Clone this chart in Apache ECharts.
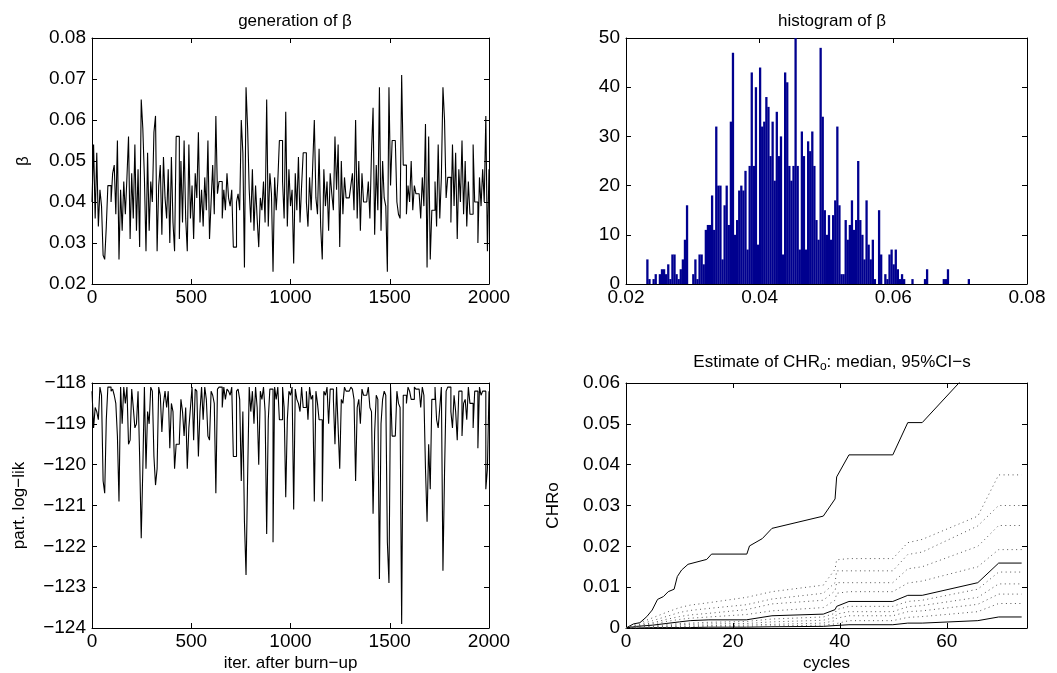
<!DOCTYPE html>
<html>
<head>
<meta charset="utf-8">
<script src="https://cdn.jsdelivr.net/npm/echarts@6/dist/echarts.min.js"></script>
<style>
  html, body { margin: 0; padding: 0; background: #fff; }
  #main { width: 1057px; height: 673px; }
</style>
</head>
<body>
<div id="main"></div>
<script>
// beta chain, one value every 8 iterations (last one is iter 2000)
const ITER_STEP = 8;
const betaTrace = [
  0.040, 0.054, 0.036, 0.052, 0.034, 0.043, 0.039, 0.027, 0.026, 0.034,
  0.044, 0.044, 0.040, 0.047, 0.049, 0.037, 0.055, 0.026, 0.043, 0.033,
  0.045, 0.037, 0.046, 0.056, 0.031, 0.047, 0.036, 0.054, 0.033, 0.048,
  0.029, 0.065, 0.058, 0.046, 0.028, 0.052, 0.033, 0.045, 0.040, 0.057,
  0.061, 0.028, 0.044, 0.049, 0.032, 0.051, 0.041, 0.036, 0.048, 0.030,
  0.051, 0.035, 0.028, 0.056, 0.056, 0.031, 0.050, 0.035, 0.055, 0.036,
  0.028, 0.054, 0.036, 0.044, 0.031, 0.047, 0.041, 0.057, 0.035, 0.043,
  0.034, 0.046, 0.038, 0.055, 0.031, 0.040, 0.049, 0.037, 0.061, 0.042,
  0.045, 0.045, 0.036, 0.043, 0.038, 0.047, 0.041, 0.039, 0.043, 0.029,
  0.029, 0.040, 0.042, 0.038, 0.060, 0.052, 0.024, 0.068, 0.058, 0.043,
  0.035, 0.048, 0.033, 0.044, 0.036, 0.029, 0.041, 0.038, 0.045, 0.035,
  0.065, 0.034, 0.047, 0.042, 0.023, 0.046, 0.038, 0.045, 0.055, 0.055,
  0.045, 0.036, 0.062, 0.034, 0.048, 0.039, 0.043, 0.025, 0.047, 0.038,
  0.051, 0.035, 0.044, 0.052, 0.052, 0.040, 0.034, 0.046, 0.038, 0.049,
  0.060, 0.041, 0.037, 0.053, 0.034, 0.026, 0.048, 0.039, 0.045, 0.033,
  0.047, 0.042, 0.038, 0.056, 0.043, 0.054, 0.029, 0.050, 0.037, 0.046,
  0.041, 0.041, 0.041, 0.044, 0.047, 0.038, 0.060, 0.036, 0.050, 0.033,
  0.047, 0.040, 0.040, 0.040, 0.045, 0.036, 0.052, 0.063, 0.032, 0.049,
  0.038, 0.068, 0.033, 0.050, 0.041, 0.039, 0.023, 0.068, 0.044, 0.055,
  0.055, 0.055, 0.040, 0.037, 0.036, 0.071, 0.049, 0.049, 0.037, 0.044,
  0.040, 0.050, 0.038, 0.044, 0.042, 0.042, 0.042, 0.036, 0.046, 0.039,
  0.059, 0.024, 0.056, 0.026, 0.038, 0.038, 0.045, 0.034, 0.054, 0.036,
  0.046, 0.068, 0.060, 0.041, 0.046, 0.046, 0.035, 0.054, 0.039, 0.052,
  0.031, 0.048, 0.040, 0.055, 0.037, 0.050, 0.034, 0.045, 0.037, 0.037,
  0.054, 0.040, 0.040, 0.030, 0.046, 0.039, 0.048, 0.040, 0.061, 0.028,
  0.048
];

// partial log-likelihood, same iterations
const logLikTrace = [
  -118.2, -119.1, -118.6, -118.7, -118.9, -118.1, -118.3, -120.4, -120.7, -118.9,
  -118.1, -118.1, -118.2, -118.15, -118.3, -118.5, -119.3, -120.9, -118.1, -119.0,
  -118.1, -118.5, -118.1, -119.5, -119.4, -118.15, -118.6, -119.1, -119.0, -118.2,
  -119.8, -121.8, -120.1, -118.1, -120.1, -118.7, -119.0, -118.1, -118.2, -119.8,
  -120.5, -120.1, -118.1, -118.3, -119.2, -118.5, -118.2, -118.6, -118.2, -119.6,
  -118.5, -118.7, -120.1, -119.5, -119.5, -119.4, -118.4, -118.7, -119.3, -118.6,
  -120.1, -119.1, -118.6, -118.1, -119.4, -118.15, -118.2, -119.8, -118.7, -118.1,
  -118.9, -118.1, -118.4, -119.3, -119.4, -118.2, -118.3, -118.5, -120.7, -118.15,
  -118.1, -118.1, -118.6, -118.1, -118.4, -118.15, -118.2, -118.3, -118.1, -119.8,
  -119.8, -118.2, -118.15, -118.4, -120.4, -118.7, -121.4, -122.7, -120.3, -118.1,
  -118.7, -118.2, -119.0, -118.1, -118.6, -120.0, -118.2, -118.4, -118.1, -118.7,
  -121.7, -118.9, -118.15, -118.15, -121.9, -118.1, -118.4, -118.1, -118.9, -118.9,
  -118.1, -118.6, -120.8, -118.9, -118.2, -118.3, -118.1, -121.1, -118.15, -118.4,
  -118.5, -118.7, -118.1, -118.6, -118.6, -118.2, -118.9, -118.1, -118.4, -118.3,
  -120.9, -118.2, -118.5, -118.9, -118.9, -120.9, -118.2, -118.3, -118.1, -119.0,
  -118.15, -118.15, -118.4, -119.5, -118.1, -119.1, -120.1, -118.4, -118.5, -118.1,
  -118.2, -118.2, -118.2, -118.1, -118.15, -118.4, -120.4, -118.6, -118.4, -119.0,
  -118.15, -118.3, -118.3, -118.3, -118.1, -118.6, -118.7, -121.2, -119.2, -118.3,
  -118.4, -122.8, -119.0, -118.4, -118.2, -118.3, -121.9, -122.9, -118.1, -119.3,
  -119.3, -119.3, -118.2, -118.5, -118.6, -123.9, -118.3, -118.3, -118.5, -118.1,
  -118.2, -118.4, -118.4, -118.1, -118.15, -118.15, -118.15, -118.6, -118.1, -118.3,
  -120.1, -121.4, -119.5, -120.6, -118.4, -118.4, -118.1, -118.9, -119.1, -118.6,
  -118.1, -122.6, -120.2, -118.2, -118.1, -118.1, -118.7, -119.1, -118.3, -118.7,
  -119.4, -118.2, -118.2, -119.3, -118.5, -118.4, -118.9, -118.1, -118.5, -118.5,
  -119.1, -118.2, -118.2, -119.6, -118.1, -118.3, -118.2, -118.2, -120.6, -120.1,
  -118.2
];

// histogram of beta
const histFirstBin = 0.0232;
const histLastBin = 0.0713;
const histCounts = [
  5, 1, 0, 1, 2, 0, 2, 3, 3, 2, 4, 1, 6, 6, 2, 1, 3, 5, 9, 16,
  0, 0, 2, 5, 1, 6, 6, 4, 11, 12, 12, 18, 11, 32, 20, 20, 5, 16, 20, 12,
  33, 47, 10, 13, 19, 20, 19, 23, 7, 24, 43, 24, 40, 8, 44, 32, 33, 38, 36, 26,
  33, 21, 35, 26, 30, 6, 43, 41, 24, 21, 24, 50, 24, 7, 31, 26, 7, 29,
  27, 31, 24, 13, 9, 48, 34, 15, 10, 14, 9, 14, 17, 32, 16, 2, 2, 13, 9, 12,
  17, 11, 13, 25, 13, 10, 5, 17, 8, 5, 9, 1, 0, 15, 6, 0, 2, 1, 6, 7,
  4, 7, 3, 1, 2, 1, 0, 0, 0, 1, 0, 0, 0, 0, 0, 1, 3, 0, 0, 0,
  0, 0, 0, 0, 1, 1, 3, 0, 0, 0, 0, 0, 0, 0, 0, 0, 1
];

// CHRo estimate: upper 95% limit
const upperCycles = [0, 1.4, 2.6, 3.9, 4.9, 5.9, 7.0, 7.9, 9.0, 9.6, 10.4, 11.6, 15.1, 16.0, 22.6, 23.1, 25.5, 27.3, 36.9, 39.1, 39.4, 41.7, 49.9, 52.7, 55.4, 65.8, 69.7, 74];
const upperCI = [0, 0.0010, 0.0013, 0.0028, 0.0044, 0.0070, 0.0077, 0.0089, 0.0095, 0.0126, 0.0142, 0.0156, 0.0168, 0.0181, 0.0181, 0.0201, 0.0219, 0.0244, 0.0274, 0.0316, 0.0370, 0.0424, 0.0424, 0.0503, 0.0503, 0.0650, 0.0720, 0.0780];

// median, lower limit and the dotted quantiles
const qCycles = [0, 2, 5, 7.5, 10, 12, 15.5, 22.5, 27.3, 36.9, 39.1, 39.4, 41.7, 49.9, 52.7, 55.4, 65.8, 69.7, 74];
const medianCHR = [0, 0.0004, 0.0007, 0.0011, 0.0015, 0.0018, 0.0020, 0.0020, 0.0030, 0.0034, 0.0045, 0.0053, 0.0065, 0.0065, 0.0080, 0.0080, 0.0111, 0.0159, 0.0159];
const lowerCI = [0, 0, 0.0001, 0.0001, 0.0001, 0.0001, 0.0002, 0.0002, 0.0003, 0.0004, 0.0006, 0.0006, 0.0008, 0.0008, 0.0012, 0.0012, 0.0018, 0.0027, 0.0027];
const q90 = [0, 0.0010, 0.0025, 0.0038, 0.0050, 0.0056, 0.0062, 0.0075, 0.0089, 0.0105, 0.0144, 0.0167, 0.0170, 0.0170, 0.0209, 0.0217, 0.0274, 0.0375, 0.0375];
const q80 = [0, 0.0007, 0.0018, 0.0028, 0.0038, 0.0043, 0.0048, 0.0057, 0.0071, 0.0085, 0.0111, 0.0140, 0.0140, 0.0140, 0.0180, 0.0186, 0.0250, 0.0300, 0.0300];
const q70 = [0, 0.0005, 0.0013, 0.0021, 0.0028, 0.0032, 0.0036, 0.0045, 0.0059, 0.0068, 0.0091, 0.0111, 0.0111, 0.0111, 0.0145, 0.0150, 0.0200, 0.0251, 0.0251];
const q60 = [0, 0.0004, 0.0010, 0.0016, 0.0021, 0.0024, 0.0027, 0.0033, 0.0042, 0.0050, 0.0068, 0.0085, 0.0089, 0.0089, 0.0110, 0.0115, 0.0150, 0.0192, 0.0192];
const q40 = [0, 0.0002, 0.0005, 0.0008, 0.0011, 0.0012, 0.0014, 0.0016, 0.0022, 0.0027, 0.0036, 0.0045, 0.0053, 0.0053, 0.0065, 0.0068, 0.0095, 0.0137, 0.0137];
const q30 = [0, 0.0001, 0.0003, 0.0005, 0.0008, 0.0009, 0.0010, 0.0011, 0.0015, 0.0019, 0.0026, 0.0034, 0.0040, 0.0040, 0.0052, 0.0055, 0.0075, 0.0108, 0.0108];
const q20 = [0, 0.0001, 0.0002, 0.0003, 0.0005, 0.0005, 0.0006, 0.0007, 0.0009, 0.0012, 0.0018, 0.0024, 0.0030, 0.0030, 0.0040, 0.0042, 0.0058, 0.0083, 0.0083];
const q10 = [0, 0, 0.0001, 0.0002, 0.0003, 0.0003, 0.0003, 0.0004, 0.0005, 0.0007, 0.0010, 0.0014, 0.0018, 0.0018, 0.0026, 0.0028, 0.0040, 0.0060, 0.0060];

const FONT = 'Liberation Sans';
const plainFmt = v => String(v);
const minusFmt = v => (v < 0 ? '\u2212' + Math.abs(v) : String(v));

const chart = echarts.init(document.getElementById('main'), null, { renderer: 'canvas' });

// one bottom + top x axis and left + right y axis for every grid (MATLAB box)
function xPair(grid, min, max, interval, name, fmt) {
  const base = {
    gridIndex: grid, type: 'value', min: min, max: max, interval: interval,
    axisLine: { show: true, onZero: false, lineStyle: { color: '#000', width: 1 } },
    axisTick: { show: true, inside: true, length: 5, lineStyle: { color: '#000' } },
    splitLine: { show: false }
  };
  return [
    Object.assign({}, base, {
      position: 'bottom',
      axisLabel: { color: '#000', fontSize: 19, fontFamily: FONT, margin: 4, showMaxLabel: max % interval === 0, formatter: fmt },
      name: name || '', nameLocation: 'middle', nameGap: 27,
      nameTextStyle: { color: '#000', fontSize: 17, fontFamily: FONT }
    }),
    Object.assign({}, base, { position: 'top', axisLabel: { show: false } })
  ];
}
function yPair(grid, min, max, interval, name, gap, fmt) {
  const base = {
    gridIndex: grid, type: 'value', min: min, max: max, interval: interval,
    axisLine: { show: true, onZero: false, lineStyle: { color: '#000', width: 1 } },
    axisTick: { show: true, inside: true, length: 5, lineStyle: { color: '#000' } },
    splitLine: { show: false }
  };
  return [
    Object.assign({}, base, {
      position: 'left',
      axisLabel: { color: '#000', fontSize: 19, fontFamily: FONT, margin: 6, formatter: fmt },
      name: name || '', nameLocation: 'middle', nameGap: gap,
      nameTextStyle: { color: '#000', fontSize: 17, fontFamily: FONT }
    }),
    Object.assign({}, base, { position: 'right', axisLabel: { show: false } })
  ];
}

const binWidth = (histLastBin - histFirstBin) / (histCounts.length - 1);
const histData = histCounts.map((c, i) => [histFirstBin + i * binWidth, c]);

// each bin drawn as a rect spanning its full width, through the axis scale
function renderBin(params, api) {
  const x = api.value(0);
  const left = api.coord([x - binWidth * 0.55, api.value(1)]);
  const right = api.coord([x + binWidth * 0.55, 0]);
  return {
    type: 'rect',
    shape: { x: left[0], y: left[1], width: right[0] - left[0], height: Math.max(right[1] - left[1], 0.6) },
    style: { fill: '#00008f', stroke: null }
  };
}

const dotted = { color: '#555', width: 1, type: [1, 3.5] };
const solid = { color: '#000', width: 1 };
const qLine = (vals, style) => ({
  type: 'line', xAxisIndex: 6, yAxisIndex: 6, symbol: 'none', clip: true,
  lineStyle: style, data: qCycles.map((c, i) => [c, vals[i]]), silent: true
});
const titleStyle = { fontSize: 17, fontWeight: 'normal', fontFamily: FONT, color: '#000' };

const option = {
  backgroundColor: '#fff',
  animation: false,
  title: [
    { text: 'generation of \u03b2', left: 290, top: 8, textAlign: 'center', textStyle: titleStyle },
    { text: 'histogram of \u03b2', left: 827, top: 8, textAlign: 'center', textStyle: titleStyle },
    { text: 'Estimate of CHR{s|o}: median, 95%CI\u2212s', left: 827, top: 346, textAlign: 'center',
      textStyle: Object.assign({}, titleStyle, {
        rich: { s: { fontSize: 12, fontFamily: FONT, color: '#000', padding: [10, 0, 0, 0] } } }) }
  ],
  grid: [
    { left: 92, top: 38, width: 397, height: 246 },
    { left: 626, top: 38, width: 401, height: 246 },
    { left: 92, top: 383, width: 397, height: 245 },
    { left: 626, top: 383, width: 401, height: 246 }
  ],
  xAxis: [].concat(
    xPair(0, 0, 2000, 500, '', plainFmt),
    xPair(1, 0.02, 0.08, 0.02),
    xPair(2, 0, 2000, 500, 'iter. after burn\u2212up', plainFmt),
    xPair(3, 0, 75, 20, 'cycles')
  ),
  yAxis: [].concat(
    yPair(0, 0.02, 0.08, 0.01, '\u03b2', 60),
    yPair(1, 0, 50, 10, '', 40),
    yPair(2, -124, -118, 1, 'part. log\u2212lik', 64, minusFmt),
    yPair(3, 0, 0.06, 0.01, 'CHRo', 64)
  ),
  series: [
    {
      type: 'line', xAxisIndex: 0, yAxisIndex: 0, symbol: 'none', step: 'end',
      lineStyle: { color: '#000', width: 1.1 },
      data: betaTrace.map((v, i) => [Math.min(i * ITER_STEP, 2000), v])
    },
    {
      type: 'custom', xAxisIndex: 2, yAxisIndex: 2, renderItem: renderBin,
      encode: { x: 0, y: 1 }, clip: true,
      data: histData
    },
    {
      type: 'line', xAxisIndex: 4, yAxisIndex: 4, symbol: 'none', step: 'end',
      lineStyle: { color: '#000', width: 1.1 },
      data: logLikTrace.map((v, i) => [Math.min(i * ITER_STEP, 2000), v])
    },
    {
      type: 'line', xAxisIndex: 6, yAxisIndex: 6, symbol: 'none', clip: true,
      lineStyle: solid, data: upperCycles.map((c, i) => [c, upperCI[i]])
    },
    qLine(medianCHR, solid),
    qLine(lowerCI, solid),
    qLine(q90, dotted),
    qLine(q80, dotted),
    qLine(q70, dotted),
    qLine(q60, dotted),
    qLine(q40, dotted),
    qLine(q30, dotted),
    qLine(q20, dotted),
    qLine(q10, dotted)
  ]
};

chart.setOption(option);
</script>
</body>
</html>
